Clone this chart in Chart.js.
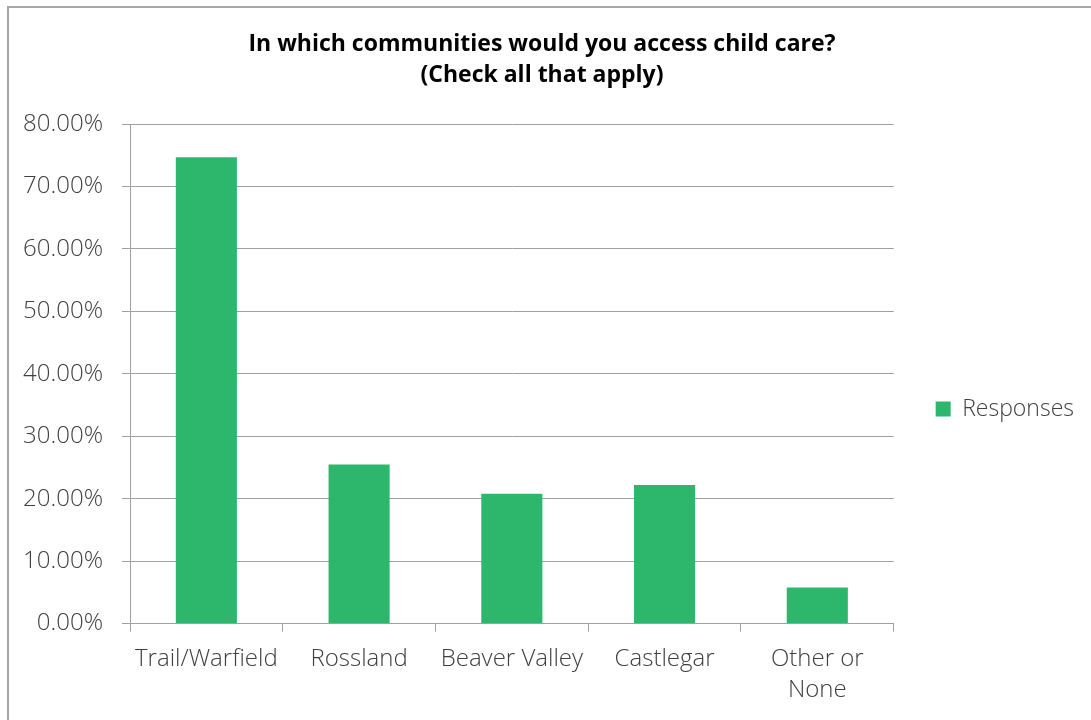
<!DOCTYPE html>
<html>
<head>
<meta charset="utf-8">
<script src="https://cdn.jsdelivr.net/npm/chart.js@4"></script>
<style>
  html, body { margin: 0; padding: 0; background: #fff; overflow: hidden; }
  #wrap { position: relative; width: 1091px; height: 720px; }
  #frame {
    position: absolute; left: 7px; top: 6px; width: 1200px; height: 800px;
    border: 2px solid #a6a6a6; pointer-events: none;
  }
</style>
</head>
<body>
<div id="wrap">
  <canvas id="chart" width="1091" height="720"></canvas>
  <div id="frame"></div>
</div>
<script>
// chart data
const communities = ['Trail/Warfield', 'Rossland', 'Beaver Valley', 'Castlegar', ['Other or', 'None']];
const responses = [74.7, 25.5, 20.8, 22.2, 5.8];
const yTicks = [0, 10, 20, 30, 40, 50, 60, 70, 80];

const axisColor = '#a0a0a0';
const textColor = '#404040';
const fontFamily = '"Open Sans", "Noto Sans", sans-serif';

new Chart(document.getElementById('chart'), {
    type: 'bar',
    data: {
        labels: communities,
        datasets: [{
            label: 'Responses',
            data: responses,
            backgroundColor: '#2db76d',
            borderWidth: 0,
            barPercentage: 0.4,
            categoryPercentage: 1.0
        }]
    },
    options: {
        responsive: false,
        animation: false,
        layout: { padding: { left: 0, right: 7, top: 0, bottom: 2 } },
        plugins: {
            title: {
                display: true,
                text: ['In which communities would you access child care?', '(Check all that apply)'],
                color: '#000',
                font: { family: fontFamily, size: 23, weight: 'bold', lineHeight: 1.35 },
                padding: { top: 29, bottom: 33 }
            },
            legend: {
                position: 'right',
                // empty title only pushes the entry down to where the reference has it
                title: { display: true, text: ' ', font: { size: 10, lineHeight: 1 }, padding: { top: 90, bottom: 0 } },
                labels: {
                    boxWidth: 15,
                    boxHeight: 15,
                    color: textColor,
                    font: { family: fontFamily, size: 23, weight: 300 },
                    padding: 42
                }
            },
            tooltip: { enabled: false }
        },
        scales: {
            x: {
                grid: { display: true, drawOnChartArea: false, offset: true, tickLength: 8, color: axisColor },
                border: { color: axisColor },
                ticks: {
                    color: textColor,
                    padding: 12,
                    maxRotation: 0,
                    font: { family: fontFamily, size: 24, weight: 300, lineHeight: 1.3 }
                }
            },
            y: {
                min: 0,
                max: 80,
                afterFit: scale => { scale.width = 130; },
                afterBuildTicks: scale => { scale.ticks = yTicks.map(v => ({ value: v })); },
                grid: { color: axisColor, tickLength: 8 },
                border: { color: axisColor },
                ticks: {
                    color: textColor,
                    padding: 19,
                    font: { family: fontFamily, size: 24, weight: 300 },
                    callback: v => v.toFixed(2) + '%'
                }
            }
        }
    }
});
</script>
</body>
</html>
